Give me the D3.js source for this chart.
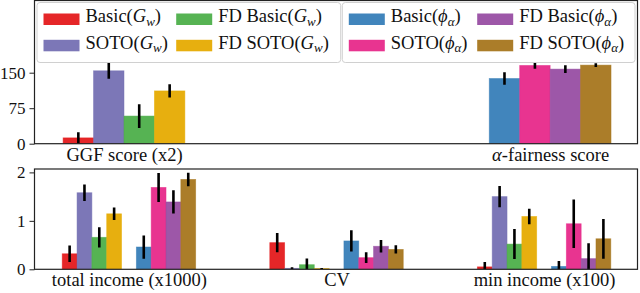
<!DOCTYPE html>
<html><head><meta charset="utf-8">
<script src="https://cdn.jsdelivr.net/npm/d3@7"></script>
<style>
html,body{margin:0;padding:0;background:#fff;}
</style></head>
<body><svg id="c" width="640" height="293"></svg>
<script>
// ---------- data ----------
const seriesNames = ["Basic(G_w)", "SOTO(G_w)", "FD Basic(G_w)", "FD SOTO(G_w)",
                     "Basic(ϕ_α)", "SOTO(ϕ_α)", "FD Basic(ϕ_α)", "FD SOTO(ϕ_α)"];
const seriesColors = ["#e41a1c", "#7570b3", "#4daf4a", "#e6ab02",
                      "#377eb8", "#e7298a", "#984ea3", "#a6761d"];

// top panel
const topCategories = ["GGF score (x2)", "α-fairness score"];
const ggfMeans  = [12.3, 154, 58.4, 111.5];
const ggfErr    = [12, 17, 25, 14];
const alphaMeans = [137.7, 165.3, 157.6, 166];
const alphaErr   = [13, 7, 8, 4];
const topTicks = [0, 75, 150];

// bottom panel
const bottomCategories = ["total income (x1000)", "CV", "min income (x100)"];
const basicGw     = [0.32, 0.55, 0.05];   const basicGwErr     = [0.17, 0.20, 0.10];
const sotoGw      = [1.58, 0.02, 1.50];   const sotoGwErr      = [0.17, 0.02, 0.22];
const fdBasicGw   = [0.66, 0.095, 0.52];  const fdBasicGwErr   = [0.21, 0.13, 0.31];
const fdSotoGw    = [1.145, 0.015, 1.09]; const fdSotoGwErr    = [0.13, 0.01, 0.16];
const basicPhi    = [0.46, 0.585, 0.06];  const basicPhiErr    = [0.24, 0.22, 0.11];
const sotoPhi     = [1.69, 0.24, 0.94];   const sotoPhiErr     = [0.30, 0.11, 0.50];
const fdBasicPhi  = [1.39, 0.475, 0.22];  const fdBasicPhiErr  = [0.24, 0.13, 0.32];
const fdSotoPhi   = [1.855, 0.41, 0.63];  const fdSotoPhiErr   = [0.14, 0.085, 0.41];
const bottomTicks = [0, 1, 2];

// ---------- helpers ----------
const FONT = "'Liberation Serif'";
const FS = 18.5, TICK_FS = 17;
const svg = d3.select("#c");

function styleText(sel, size) {
  return sel.style("font-family", FONT).attr("font-size", size || FS).attr("fill", "#111");
}

function richText(sel, str) {
  sel.text(null);
  let m = str.match(/^(.*)\((.)_(.)\)$/);
  if (m) {
    sel.append("tspan").text(m[1] + "(");
    sel.append("tspan").attr("font-style", "italic").text(m[2]);
    sel.append("tspan").attr("font-style", "italic").attr("font-size", 13).attr("dy", 3.5).text(m[3]);
    sel.append("tspan").attr("dy", -3.5).text(")");
    return;
  }
  if (str.startsWith("α")) {
    sel.append("tspan").attr("font-style", "italic").text("α");
    sel.append("tspan").text(str.slice(1));
    return;
  }
  sel.text(str);
}

function panel(cfg) {
  const g = svg.append("g");
  const x = d3.scaleLinear().domain(cfg.xDomain).range([cfg.left, cfg.right]);
  const y = d3.scaleLinear().domain(cfg.yDomain).range([cfg.bottom, cfg.yTopPx]);
  const clipId = "clip" + cfg.id;
  svg.append("clipPath").attr("id", clipId).append("rect")
    .attr("x", cfg.left).attr("y", cfg.top).attr("width", cfg.right - cfg.left).attr("height", cfg.bottom - cfg.top);
  const w = 1 / 14;
  const plot = g.append("g").attr("clip-path", `url(#${clipId})`);
  cfg.bars.forEach(b => {
    const cx = x(b.cat + b.off * w);
    const bw = x(w) - x(0);
    plot.append("rect")
      .attr("x", cx - bw / 2).attr("width", bw)
      .attr("y", y(b.v)).attr("height", y(0) - y(b.v))
      .attr("fill", seriesColors[b.s]).attr("fill-opacity", 0.95)
      .attr("stroke", seriesColors[b.s]).attr("stroke-opacity", 0.6).attr("stroke-width", 0.8);
  });
  cfg.bars.forEach(b => {
    const cx = x(b.cat + b.off * w);
    plot.append("line").attr("x1", cx).attr("x2", cx)
      .attr("y1", y(b.v - b.e)).attr("y2", y(b.v + b.e))
      .attr("stroke", "#000").attr("stroke-width", 2.6);
  });
  // y axis
  const ya = g.append("g").attr("transform", `translate(${cfg.left},0)`)
    .call(d3.axisLeft(y).tickValues(cfg.ticks).tickFormat(d3.format("d")).tickSize(5).tickPadding(4));
  ya.attr("font-family", null).attr("font-size", null);
  ya.select(".domain").remove();
  ya.selectAll("line").attr("stroke", "#222").attr("stroke-width", 1);
  styleText(ya.selectAll("text"), TICK_FS);
  // x axis labels
  const xa = g.append("g").attr("transform", `translate(0,${cfg.bottom})`)
    .call(d3.axisBottom(x).tickValues(cfg.cats.map((c, i) => i)).tickSize(0).tickPadding(4)
      .tickFormat(i => cfg.cats[i]));
  xa.attr("font-family", null).attr("font-size", null);
  xa.select(".domain").remove();
  styleText(xa.selectAll("text"))
    .each(function(i) { richText(d3.select(this), cfg.cats[i]); });
  // frame
  g.append("rect").attr("x", cfg.left).attr("y", cfg.top)
    .attr("width", cfg.right - cfg.left).attr("height", cfg.bottom - cfg.top)
    .attr("fill", "none").attr("stroke", "#222").attr("stroke-width", 1.2);
  return g;
}

// top panel bars
const topBars = [];
ggfMeans.forEach((v, i) => topBars.push({cat: 0, off: i - 1.5, v, e: ggfErr[i], s: i}));
alphaMeans.forEach((v, i) => topBars.push({cat: 1, off: i - 1.5, v, e: alphaErr[i], s: 4 + i}));

panel({id: "t", left: 34.5, right: 637.5, top: 0.5, bottom: 143.7, yTopPx: 1.7,
  xDomain: [-0.21, 1.205], yDomain: [0, 300], ticks: topTicks, cats: topCategories, bars: topBars});

// bottom panel bars
const bottomSeries = [
  [basicGw, basicGwErr], [sotoGw, sotoGwErr], [fdBasicGw, fdBasicGwErr], [fdSotoGw, fdSotoGwErr],
  [basicPhi, basicPhiErr], [sotoPhi, sotoPhiErr], [fdBasicPhi, fdBasicPhiErr], [fdSotoPhi, fdSotoPhiErr]];
const offsets = [-4, -3, -2, -1, 1, 2, 3, 4];
const bottomBars = [];
bottomSeries.forEach(([vals, errs], s) => vals.forEach((v, c) =>
  bottomBars.push({cat: c, off: offsets[s], v, e: errs[c], s})));

panel({id: "b", left: 34.5, right: 637.5, top: 169, bottom: 269.3, yTopPx: 169,
  xDomain: [-0.455, 2.45], yDomain: [0, 2.07], ticks: bottomTicks, cats: bottomCategories, bars: bottomBars});

// legends
function legend(x0, x1, items) {
  const g = svg.append("g");
  g.append("rect").attr("x", x0).attr("y", 2.5).attr("width", x1 - x0).attr("height", 60)
    .attr("rx", 3).attr("fill", "#fff").attr("fill-opacity", 0.85)
    .attr("stroke", "#d0d0d0").attr("stroke-width", 1);
  items.forEach((s, k) => {
    const col = Math.floor(k / 2), row = k % 2;
    const hx = x0 + 6.5 + col * (items.colStep);
    const hy = 13.5 + row * 26.3;
    g.append("rect").attr("x", hx).attr("y", hy).attr("width", 36).attr("height", 11.5)
      .attr("fill", seriesColors[s]).attr("fill-opacity", 0.95);
    const t = styleText(g.append("text").attr("x", hx + 42).attr("y", hy + 8.8));
    richText(t, seriesNames[s]);
  });
}
const leftItems = [0, 1, 2, 3]; leftItems.colStep = 132.7;
const rightItems = [4, 5, 6, 7]; rightItems.colStep = 128.4;
legend(37, 340.7, leftItems);
legend(342.3, 635, rightItems);
</script></body></html>
